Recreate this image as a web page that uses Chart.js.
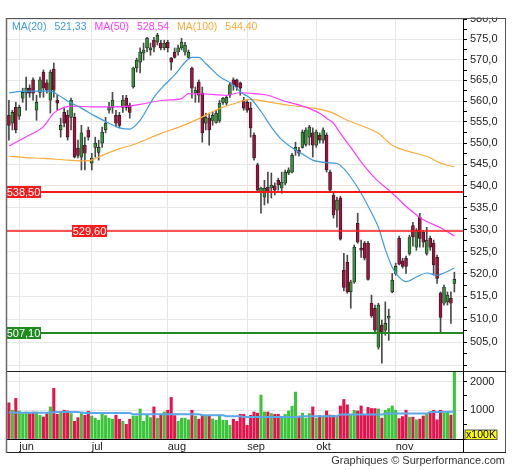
<!DOCTYPE html>
<html>
<head>
<meta charset="utf-8">
<script src="https://cdn.jsdelivr.net/npm/chart.js@4.4.1/dist/chart.umd.min.js"></script>
<style>
  html, body { margin: 0; padding: 0; background: #fff; }
  #wrap { position: relative; width: 512px; height: 470px; }
  #price { position: absolute; left: 0; top: 0; }
  #vol { position: absolute; left: 0; top: 372px; }
</style>
</head>
<body>
<div id="wrap">
  <canvas id="price" width="512" height="372"></canvas>
  <canvas id="vol" width="512" height="98"></canvas>
</div>
<script>
const months = ['jun', 'jul', 'aug', 'sep', 'okt', 'nov'];
const monthStart = [3, 24, 46, 69, 89, 112];

const opens = [556.6,554.7,558.5,556.4,560.7,561.9,563.1,565.1,557.8,562.1,
  567.0,564.4,560.2,567.7,560.2,553.1,557.3,556.6,556.1,556.1,
  548.8,546.7,549.5,553.1,545.3,549.0,547.8,550.0,553.1,557.8,
  558.5,556.6,556.6,558.5,560.7,559.0,563.4,568.0,569.4,571.6,
  572.9,572.4,574.8,574.3,574.1,572.9,574.3,570.4,571.9,571.9,
  572.9,571.9,570.6,568.0,561.9,564.6,561.9,554.7,555.9,555.4,
  554.9,555.4,559.7,559.5,561.4,565.1,565.1,564.4,560.2,559.7,
  558.3,551.9,544.9,538.5,537.4,539.7,539.5,540.0,541.3,539.5,
  540.6,543.0,543.2,548.3,548.3,549.0,549.7,551.4,552.4,549.5,
  551.9,550.7,551.9,543.2,537.9,534.4,537.2,520.8,522.6,516.0,
  518.2,531.4,525.8,526.9,526.9,513.5,512.4,503.9,508.7,507.6,
  510.2,516.0,520.1,528.0,522.9,523.5,524.6,530.9,526.0,532.8,
  529.4,524.6,528.0,526.9,523.7,515.8,513.5,513.8,514.6,517.9];
const highs = [560.2,557.8,559.7,559.0,563.1,565.8,563.9,565.6,561.4,565.8,
  567.5,565.1,567.5,569.2,561.4,555.9,558.3,557.8,560.7,557.1,
  550.7,554.2,551.4,553.8,547.6,551.4,550.7,553.8,556.1,559.7,
  562.1,557.8,557.3,561.4,561.4,559.5,568.2,570.4,572.9,574.1,
  575.5,574.1,575.5,576.5,574.8,574.8,574.8,570.6,572.9,573.6,
  575.3,574.3,572.4,568.2,563.4,565.1,563.4,557.1,557.1,557.3,
  557.8,560.2,560.9,561.4,564.4,565.6,565.3,564.6,560.9,560.2,
  559.7,552.4,545.3,539.7,541.3,543.2,543.0,540.7,541.8,543.2,
  543.7,544.2,547.6,550.2,549.0,553.1,553.6,554.2,553.6,553.1,
  552.4,553.6,552.4,543.7,538.3,537.4,537.6,524.6,524.2,518.6,
  526.5,533.7,527.6,527.3,527.3,515.3,513.1,513.5,509.8,513.8,
  512.2,520.1,522.4,528.5,523.5,524.0,528.7,531.6,530.2,533.7,
  529.8,530.5,528.5,527.6,524.2,516.0,517.5,516.0,516.0,520.4];
const lows = [550.7,553.1,552.4,555.6,559.7,557.8,560.9,560.2,555.4,560.9,
  560.9,561.9,557.1,560.9,557.8,551.4,553.8,550.7,553.1,546.5,
  546.5,543.7,543.7,550.7,543.7,546.7,546.0,549.0,552.4,557.1,
  557.1,553.8,553.6,557.3,557.8,555.9,563.1,567.0,566.8,569.9,
  571.9,571.1,571.9,573.6,572.4,572.4,571.9,567.5,570.4,571.1,
  572.4,571.1,570.4,560.7,559.7,559.7,550.2,553.1,549.5,554.2,
  554.7,554.9,559.2,559.0,560.9,562.6,562.6,561.4,557.8,557.3,
  551.4,546.0,538.5,533.7,535.6,536.0,537.2,537.9,539.0,538.3,
  540.2,542.6,543.0,547.1,546.9,548.8,549.3,549.5,546.7,549.0,
  550.0,550.0,543.2,538.5,532.6,530.5,527.6,516.2,515.7,512.4,
  517.9,526.9,523.7,523.1,518.6,510.4,507.2,503.5,500.5,506.5,
  505.4,515.8,519.7,522.0,521.3,520.1,524.2,526.2,525.3,526.0,
  526.0,524.2,525.3,519.7,517.9,507.0,513.1,513.1,509.1,516.0];
const closes = [554.2,557.3,553.1,558.5,562.1,563.1,561.9,561.9,559.7,565.1,
  563.1,562.6,567.0,562.6,559.5,554.2,554.7,551.4,560.2,546.7,
  547.1,552.4,547.6,551.4,546.5,550.0,549.0,552.6,554.7,558.5,
  560.2,554.7,554.2,560.2,558.5,557.3,568.0,569.9,571.9,572.4,
  575.3,572.9,573.1,576.0,572.9,574.1,572.9,569.4,570.6,572.9,
  574.3,573.6,571.9,563.1,562.6,561.4,552.4,556.1,553.1,556.6,
  557.1,559.5,560.7,560.9,563.9,563.9,563.4,563.1,558.3,557.8,
  553.6,546.5,539.0,539.5,539.5,538.5,540.2,539.0,540.2,540.9,
  543.2,543.7,547.1,549.0,547.6,552.6,553.1,553.8,549.5,552.6,
  550.7,553.1,543.7,539.0,533.3,536.7,527.8,517.0,516.0,518.2,
  526.0,527.1,525.3,523.5,518.8,510.7,507.6,513.1,507.2,509.1,
  510.7,518.6,521.7,522.2,521.7,521.7,528.3,528.3,529.8,528.0,
  527.1,527.6,526.0,522.0,519.0,510.4,517.1,515.3,513.5,518.8];

// volume in units of 100K
const volumes = [1257,1000,1410,976,884,940,884,940,940,825,
  766,884,1117,1761,860,900,1000,976,884,614,
  743,900,825,965,800,725,650,860,815,725,
  690,825,690,614,509,690,800,800,1045,614,
  860,743,1117,725,860,940,1000,1445,815,614,
  725,725,667,1000,800,690,825,800,800,700,
  650,830,650,650,474,690,614,860,860,474,
  825,940,900,1527,940,940,884,860,860,743,
  860,976,1140,1632,800,900,725,884,1117,725,
  815,780,976,830,815,800,1150,1375,1187,860,
  1000,976,1150,825,1100,1060,1060,1045,725,1000,
  1060,1150,1000,712,780,1000,750,760,667,690,
  800,860,925,1000,667,1000,900,940,830,2400];

// moving averages: [day index, value]
const ma20 = [[0,562.0],[5,562.4],[12,562.4],[14,561.6],[17,560.0],[21,558.3],[25,556.4],[29,554.7],
  [32,553.6],[35,553.3],[38,555.4],[42,560.9],[45,563.8],[48,566.3],[51,569.4],[53,570.6],[55,570.6],
  [57,569.1],[61,565.9],[65,563.9],[67,562.2],[70,560.6],[73,557.5],[76,553.8],[79,550.8],[82,548.9],
  [85,547.4],[88,546.0],[92,545.4],[95,545.2],[97,544.0],[99,542.0],[102,538.3],[105,533.8],[107,530.5],
  [109,525.5],[111,521.5],[113,519.3],[115,518.3],[118,519.3],[121,520.2],[124,519.7],[126,520.2],[129,521.33]];
const ma50 = [[0,549.3],[5,551.5],[10,553.9],[13,557.1],[16,558.5],[19,558.8],[24,558.6],[29,558.6],
  [35,558.8],[38,559.2],[45,560.2],[50,560.6],[52,561.8],[57,561.7],[63,561.4],[67,562.0],[71,561.8],
  [75,561.4],[79,560.2],[85,558.8],[90,557.1],[92,555.9],[94,554.7],[96,552.3],[99,549.0],[102,545.6],
  [106,541.8],[111,538.3],[116,534.6],[120,532.2],[125,530.4],[129,528.54]];
const ma100 = [[0,546.9],[5,546.6],[10,546.4],[17,546.0],[22,545.8],[24,546.0],[27,547.1],[32,548.7],
  [36,549.6],[44,552.3],[50,554.0],[55,555.8],[61,558.2],[66,559.6],[70,560.4],[75,559.8],[81,559.0],
  [89,558.2],[93,557.4],[98,555.4],[104,553.5],[107,552.3],[111,549.5],[116,548.0],[121,546.9],
  [125,545.3],[129,544.4]];
const volMa = [[0,920],[10,910],[14,935],[20,935],[22,905],[35,905],[36,860],[55,860],[56,825],[62,825],
  [63,790],[67,790],[68,765],[84,765],[85,790],[95,790],[96,850],[108,850],[109,884],[121,884],
  [122,940],[129,950]];

const levels = [538.5, 529.6, 507.1];

Chart.defaults.font.family = "'Liberation Sans', Arial, sans-serif";

const idx = closes.map((c, i) => i);
const isUp = i => closes[i] >= opens[i];
const fmt = (v, d) => v.toFixed(d).replace('.', ',');

function noPad(s) {
  s.paddingTop = 0; s.paddingBottom = 0; s.paddingLeft = 0; s.paddingRight = 0;
}

function monthAxis(withLabels) {
  return {
    type: 'linear',
    min: -0.55,
    max: 131.5,
    offset: false,
    afterBuildTicks: s => { s.ticks = monthStart.map(v => ({ value: v })); },
    afterFit: s => { s.height = withLabels ? 14 : 0; noPad(s); },
    grid: { color: '#e6e6e6', drawTicks: false, offset: false },
    border: { display: withLabels, color: '#000' },
    ticks: {
      display: withLabels, align: 'start', padding: 1, autoSkip: false, maxRotation: 0,
      color: '#222', font: { size: 11 },
      callback: (v, i) => months[i]
    }
  };
}

function maLine(pts, color, width) {
  return {
    type: 'line',
    data: pts.map(([x, y]) => ({ x, y })),
    borderColor: color,
    borderWidth: width,
    pointRadius: 0,
    cubicInterpolationMode: 'monotone',
    fill: false
  };
}

const maColors = ['#3d9be0', '#ff3cff', '#ffab3a'];

const pricePlugin = {
  id: 'priceDecor',
  afterDatasetsDraw(chart) {
    const { ctx, chartArea: a, scales: { y } } = chart;
    const styles = [
      { color: '#f21c1c', width: 2, boxX: 6 },
      { color: '#ff1a1a', width: 1.4, boxX: 72 },
      { color: '#1f8a1f', width: 2, boxX: 6 }
    ];
    ctx.save();
    levels.forEach((v, k) => {
      const s = styles[k];
      const py = Math.round(y.getPixelForValue(v));
      ctx.strokeStyle = s.color;
      ctx.lineWidth = s.width;
      ctx.beginPath();
      ctx.moveTo(a.left, py);
      ctx.lineTo(a.right, py);
      ctx.stroke();
      ctx.fillStyle = s.color;
      ctx.fillRect(s.boxX, py - 6, 35, 12);
      ctx.fillStyle = '#fff';
      ctx.font = "11px 'Liberation Sans'";
      ctx.textAlign = 'center';
      ctx.textBaseline = 'middle';
      ctx.fillText(fmt(v, 2), s.boxX + 17.5, py + 0.5);
    });
    ctx.restore();
  },
  afterDraw(chart) {
    const { ctx } = chart;
    ctx.save();
    // hide the part of the top tick label above the frame
    ctx.fillStyle = '#fff';
    ctx.fillRect(0, 0, 512, 17.5);

    // legend
    ctx.font = "10.5px 'Liberation Sans'";
    ctx.textAlign = 'left';
    ctx.textBaseline = 'alphabetic';
    let x = 12;
    [['MA(20)', ma20], ['MA(50)', ma50], ['MA(100)', ma100]].forEach(([name, pts], k) => {
      ctx.fillStyle = maColors[k];
      ctx.fillText(name, x, 29.5);
      x += ctx.measureText(name).width + 8;
      const val = fmt(pts[pts.length - 1][1], 2);
      ctx.fillText(val, x, 29.5);
      x += ctx.measureText(val).width + 8;
    });

    // frame
    ctx.lineWidth = 1;
    ctx.strokeStyle = '#555';
    ctx.beginPath();
    ctx.moveTo(6, 18.5); ctx.lineTo(506, 18.5);
    ctx.moveTo(505.5, 18); ctx.lineTo(505.5, 372);
    ctx.stroke();
    ctx.strokeStyle = '#222';
    ctx.beginPath();
    ctx.moveTo(6, 371.5); ctx.lineTo(506, 371.5);
    ctx.stroke();
    ctx.strokeStyle = '#6a6a6a';
    ctx.lineWidth = 1.5;
    ctx.beginPath();
    ctx.moveTo(6.5, 18); ctx.lineTo(6.5, 372);
    ctx.stroke();
    ctx.restore();
  }
};

const volPlugin = {
  id: 'volDecor',
  afterDraw(chart) {
    const { ctx } = chart;
    ctx.save();
    ctx.lineWidth = 1;
    ctx.strokeStyle = '#000';
    ctx.beginPath();
    ctx.moveTo(463.5, 67); ctx.lineTo(463.5, 81);
    ctx.stroke();
    ctx.strokeStyle = '#555';
    ctx.beginPath();
    ctx.moveTo(505.5, 0); ctx.lineTo(505.5, 81);
    ctx.stroke();
    ctx.strokeStyle = '#222';
    ctx.beginPath();
    ctx.moveTo(6, 80.5); ctx.lineTo(506, 80.5);
    ctx.stroke();
    ctx.strokeStyle = '#6a6a6a';
    ctx.lineWidth = 1.5;
    ctx.beginPath();
    ctx.moveTo(6.5, 0); ctx.lineTo(6.5, 81);
    ctx.stroke();

    // unit box
    ctx.fillStyle = '#ffff00';
    ctx.fillRect(465, 58, 32, 9.5);
    ctx.strokeStyle = '#333';
    ctx.lineWidth = 0.8;
    ctx.strokeRect(465, 58, 32, 9.5);
    ctx.fillStyle = '#000';
    ctx.font = "10.5px 'Liberation Sans'";
    ctx.textAlign = 'center';
    ctx.textBaseline = 'middle';
    ctx.fillText('x100K', 481, 63);

    // credit
    ctx.fillStyle = '#333';
    ctx.font = "11px 'Liberation Sans'";
    ctx.textAlign = 'right';
    ctx.fillText('Graphiques \u00a9 Surperformance.com', 505, 89);
    ctx.restore();
  }
};

new Chart(document.getElementById('price'), {
  type: 'bar',
  data: {
    datasets: [
      maLine(ma20, maColors[0], 1.2),
      maLine(ma50, maColors[1], 1.2),
      maLine(ma100, maColors[2], 1.2),
      {
        type: 'bar',
        data: idx.map(i => ({ x: i, y: [opens[i], closes[i]] })),
        backgroundColor: idx.map(i => isUp(i) ? '#35923a' : '#a3103d'),
        borderColor: '#1c1c1c',
        borderWidth: 0.7,
        borderSkipped: false,
        barThickness: 3,
        minBarLength: 1.5,
        grouped: false
      },
      {
        type: 'bar',
        data: idx.map(i => ({ x: i, y: [lows[i], highs[i]] })),
        backgroundColor: '#4a4a4a',
        barThickness: 1,
        grouped: false
      }
    ]
  },
  options: {
    responsive: false,
    animation: false,
    layout: { padding: { left: 7, right: 6, top: 18, bottom: 1 } },
    plugins: { legend: { display: false }, tooltip: { enabled: false } },
    scales: {
      x: monthAxis(false),
      y: {
        type: 'logarithmic',
        position: 'right',
        min: 498.8,
        max: 580.3,
        afterBuildTicks: s => {
          const t = [];
          for (let v = 500; v <= 580; v += 2.5) t.push({ value: v });
          s.ticks = t;
        },
        afterFit: s => { s.width = 43; noPad(s); },
        grid: {
          color: c => (c.tick && c.tick.value % 5 === 0) ? '#e6e6e6' : 'rgba(0,0,0,0)',
          tickColor: '#000',
          tickLength: 4
        },
        border: { color: '#000' },
        ticks: {
          padding: 3, autoSkip: false, color: '#222', font: { size: 11 },
          callback: v => (v % 5 === 0 && v > 501) ? fmt(v, 1) : ''
        }
      }
    }
  },
  plugins: [pricePlugin]
});

new Chart(document.getElementById('vol'), {
  type: 'bar',
  data: {
    datasets: [
      maLine(volMa, '#5aa8e8', 2),
      {
        type: 'bar',
        data: idx.map(i => ({ x: i, y: volumes[i] })),
        backgroundColor: idx.map(i => isUp(i) ? '#3ac43a' : '#e5124c'),
        barThickness: 2.4,
        grouped: false
      }
    ]
  },
  options: {
    responsive: false,
    animation: false,
    layout: { padding: { left: 7, right: 6, top: 0, bottom: 17 } },
    plugins: { legend: { display: false }, tooltip: { enabled: false } },
    scales: {
      x: monthAxis(true),
      y: {
        type: 'linear',
        position: 'right',
        min: 0,
        max: 2330,
        afterBuildTicks: s => { s.ticks = [0, 500, 1000, 1500, 2000].map(v => ({ value: v })); },
        afterFit: s => { s.width = 43; noPad(s); },
        grid: {
          color: c => (c.tick && (c.tick.value === 1000 || c.tick.value === 2000)) ? '#e6e6e6' : 'rgba(0,0,0,0)',
          tickColor: '#000',
          tickLength: 4
        },
        border: { color: '#000' },
        ticks: {
          padding: 3, autoSkip: false, color: '#222', font: { size: 11 },
          callback: v => (v === 1000 || v === 2000) ? String(v) : ''
        }
      }
    }
  },
  plugins: [volPlugin]
});
</script>
</body>
</html>
